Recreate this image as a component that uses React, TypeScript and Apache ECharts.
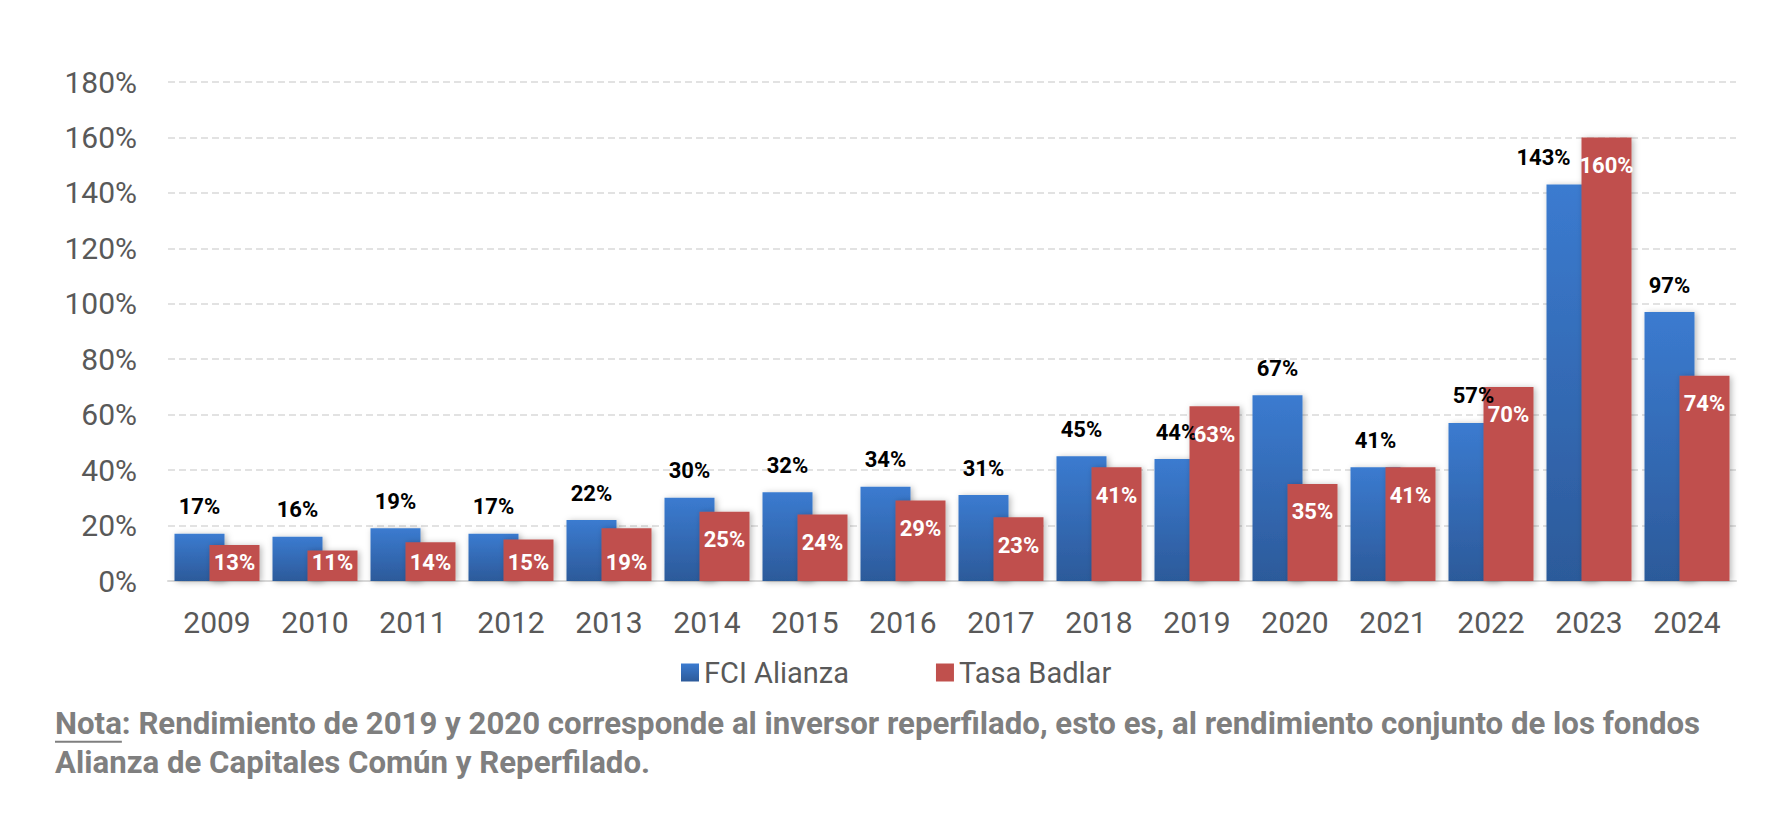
import React, { useEffect, useRef } from "react";
import * as echarts from "echarts";

const years = ["2009", "2010", "2011", "2012", "2013", "2014", "2015", "2016", "2017", "2018", "2019", "2020", "2021", "2022", "2023", "2024"];
const fciAlianza = [17, 16, 19, 17, 22, 30, 32, 34, 31, 45, 44, 67, 41, 57, 143, 97];
const tasaBadlar = [13, 11, 14, 15, 19, 25, 24, 29, 23, 41, 63, 35, 41, 70, 160, 74];
const seriesNames = ["FCI Alianza", "Tasa Badlar"];
const noteLabel = "Nota";
const noteLine1 = ": Rendimiento de 2019 y 2020 corresponde al inversor reperfilado, esto es, al rendimiento conjunto de los fondos";
const noteLine2 = "Alianza de Capitales Común y Reperfilado.";

const FONT = "Roboto, 'Noto Sans', sans-serif";

function measure(text: string, font: string): number {
  const c = document.createElement("canvas");
  const ctx = c.getContext("2d");
  if (!ctx) return text.length * 50;
  ctx.font = font;
  return ctx.measureText(text).width;
}

export default function App() {
  const ref = useRef<HTMLDivElement>(null);

  useEffect(() => {
    document.body.style.margin = "0";
    if (!ref.current) return;
    const chart = echarts.init(ref.current, null, { renderer: "svg" });

    const noteX = 55;
    const targetWidth = 1645;
    const base = measure(noteLabel + noteLine1, "bold 100px Roboto");
    const noteFs = Math.round((100 * targetWidth) / base * 10) / 10;
    const notaW = measure(noteLabel, `bold ${noteFs}px Roboto`);
    const line1Top = 708;
    const line2Top = 747;

    const blueGrad = new echarts.graphic.LinearGradient(0, 0, 0, 1, [
      { offset: 0, color: "#3b7bd0" },
      { offset: 1, color: "#2c5a9a" },
    ]);

    const blueData = fciAlianza.map((v, i) => ({
      value: v,
      label: years[i] === "2023" ? { offset: [-28, 0] } : years[i] === "2019" ? { offset: [-3, 0] } : {},
    }));
    const redData = tasaBadlar.map((v) => ({
      value: v,
      label: v < 23 ? { position: "insideBottom", distance: 8 } : { position: "insideTop", distance: 17 },
    }));

    const shadow = {
      shadowBlur: 6,
      shadowColor: "rgba(0,0,0,0.28)",
      shadowOffsetX: 2,
      shadowOffsetY: 1,
    };

    chart.setOption({
      animation: false,
      backgroundColor: "#ffffff",
      textStyle: { fontFamily: FONT },
      grid: { left: 168, right: 54, top: 82, bottom: 249, containLabel: false },
      legend: {
        data: seriesNames,
        left: 676,
        top: 653,
        itemWidth: 18,
        itemHeight: 18,
        itemGap: 87,
        icon: "rect",
        textStyle: { fontSize: 29, color: "#595959", fontFamily: FONT },
      },
      xAxis: {
        type: "category",
        data: years,
        axisLine: { show: true, lineStyle: { color: "#d9d9d9", width: 2 } },
        axisTick: { show: false },
        axisLabel: { fontSize: 30, color: "#595959", margin: 26, fontFamily: FONT },
      },
      yAxis: {
        type: "value",
        min: 0,
        max: 180,
        interval: 20,
        axisLine: { show: false },
        axisTick: { show: false },
        axisLabel: { formatter: "{value}%", fontSize: 30, color: "#595959", margin: 31, fontFamily: FONT },
        splitLine: { show: true, lineStyle: { color: "#d9d9d9", type: [7, 4], width: 1.5 } },
      },
      series: [
        {
          name: seriesNames[0],
          type: "bar",
          data: blueData,
          barWidth: 50,
          barGap: "-30%",
          itemStyle: { color: blueGrad, ...shadow },
          label: {
            show: true,
            position: "top",
            distance: 16,
            formatter: "{c}%",
            fontSize: 22,
            fontWeight: "bold",
            color: "#000000",
            fontFamily: FONT,
          },
        },
        {
          name: seriesNames[1],
          type: "bar",
          data: redData,
          barWidth: 50,
          barGap: "-30%",
          itemStyle: { color: "#c0504d", ...shadow },
          label: {
            show: true,
            formatter: "{c}%",
            fontSize: 22,
            fontWeight: "bold",
            color: "#ffffff",
            fontFamily: FONT,
          },
        },
      ],
      graphic: [
        {
          type: "text",
          left: noteX,
          top: line1Top,
          style: {
            text: noteLabel + noteLine1,
            font: `bold ${noteFs}px Roboto`,
            fill: "#7f7f7f",
          },
        },
        {
          type: "line",
          shape: { x1: noteX, y1: line1Top + noteFs * 1.08, x2: noteX + notaW, y2: line1Top + noteFs * 1.08 },
          style: { stroke: "#7f7f7f", lineWidth: 2 },
        },
        {
          type: "text",
          left: noteX,
          top: line2Top,
          style: {
            text: noteLine2,
            font: `bold ${noteFs}px Roboto`,
            fill: "#7f7f7f",
          },
        },
      ],
    });

    return () => chart.dispose();
  }, []);

  return <div ref={ref} style={{ width: 1790, height: 830 }} />;
}
